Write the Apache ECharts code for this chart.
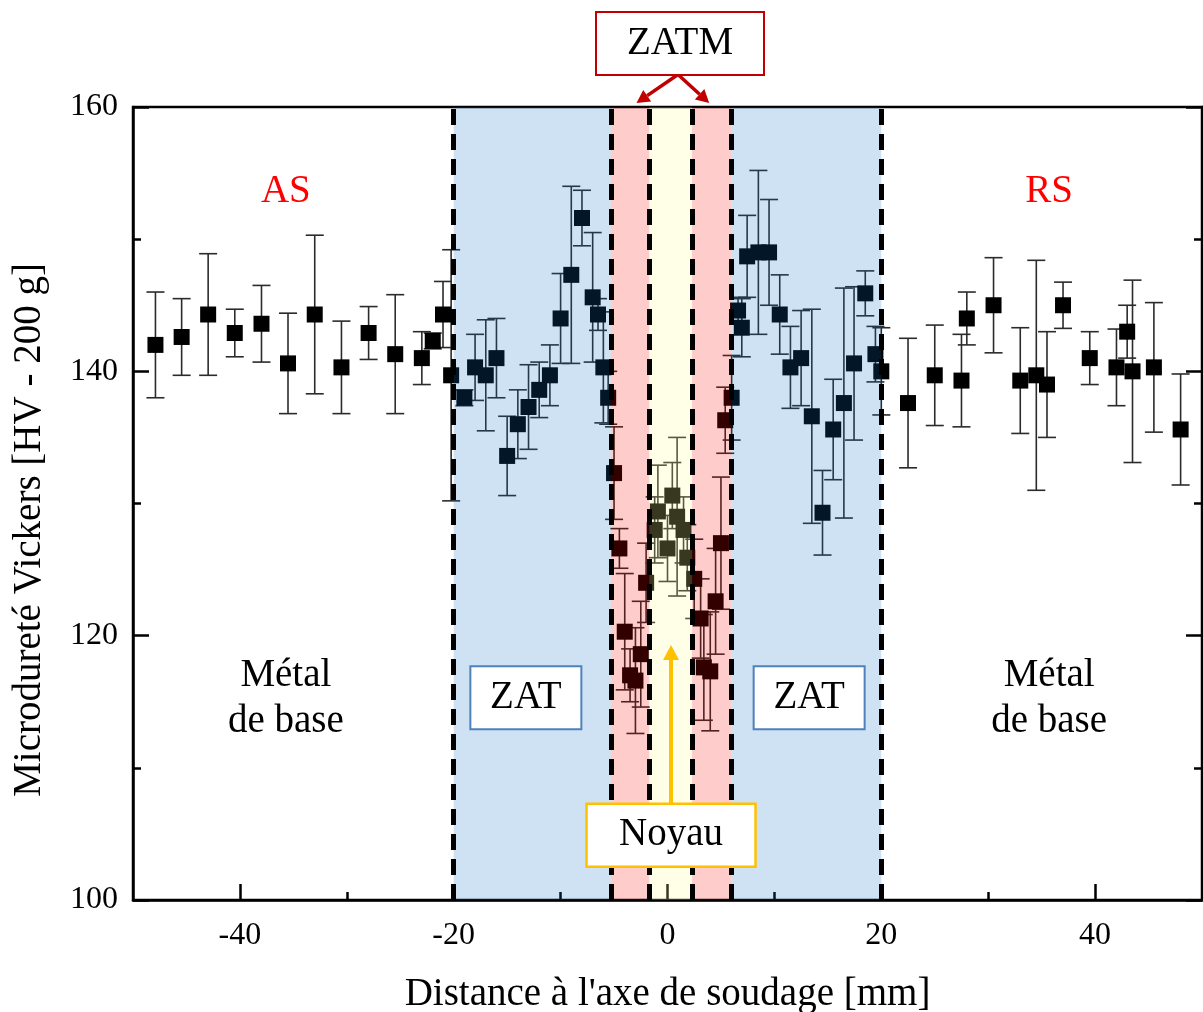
<!DOCTYPE html>
<html>
<head>
<meta charset="utf-8">
<script src="https://cdn.jsdelivr.net/npm/echarts@6/dist/echarts.min.js"></script>
<style>
  html, body { margin: 0; padding: 0; background: #fff; }
  #main { width: 1203px; height: 1012px; }
</style>
</head>
<body>
<div id="main"></div>
<script>
// distance a l'axe de soudage (mm)
const distance = [
  -47.9, -45.45, -42.97, -40.48, -37.98, -35.5, -33.0, -30.5, -27.96, -25.47, -22.98, -21.96, -21.0, -20.24,
  -19.0, -18.0, -17.0, -16.0, -15.0, -14.0, -13.0, -12.0, -11.0, -10.0, -9.0, -8.0, -7.0, -6.5, -6.0, -5.55,
  -5.0, -4.5, -4.0, -3.5, -3.0, -2.5, -2.0,
  -1.2, -0.9, 0.0, 0.45, 0.9, 1.5, 1.85, 2.5,
  3.1, 3.4, 4.0, 4.5, 5.0, 5.4, 6.0,
  6.6, 6.95, 7.45, 8.5, 9.5, 10.5, 11.5, 12.5, 13.5, 14.5, 15.5, 16.5, 17.45, 18.5, 19.45, 20.0,
  22.5, 25.0, 27.5, 28.0, 30.5, 33.0, 34.5, 35.5, 37.0, 39.5, 42.0, 43.0, 43.5, 45.5, 48.0
];
// microdurete (HV)
const hardness = [
  142.0, 142.6, 144.3, 142.9, 143.6, 140.6, 144.3, 140.3, 142.9, 141.3, 141.0, 142.3, 144.3, 139.7,
  138.0, 140.3, 139.7, 141.0, 133.6, 136.0, 137.3, 138.6, 139.7, 144.0, 147.3, 151.6, 145.6, 144.3, 140.3, 138.0,
  132.3, 126.6, 120.3, 117.0, 116.6, 118.6, 124.0,
  128.0, 129.4, 126.6, 130.6, 129.0, 128.0, 125.9, 124.3,
  121.3, 117.6, 117.3, 122.6, 127.0, 136.3, 138.0,
  144.6, 143.3, 148.7, 149.0, 149.0, 144.3, 140.3, 141.0, 136.6, 129.3, 135.6, 137.6, 140.6, 145.9, 141.3, 140.0,
  137.6, 139.7, 139.3, 144.0, 145.0, 139.3, 139.7, 139.0, 145.0, 141.0, 140.3, 143.0, 140.0, 140.3, 135.6
];
// barre d'erreur (+/- HV)
const errorBar = [
  4.0, 2.9, 4.6, 1.8, 2.9, 3.8, 6.0, 3.5, 2.0, 4.5, 2.0, 0.6, 2.5, 9.5,
  0.6, 2.5, 4.2, 3.0, 3.0, 2.6, 3.2, 2.1, 2.3, 3.4, 6.7, 2.1, 4.9, 1.2, 4.2, 2.0,
  3.5, 1.5, 4.4, 2.0, 4.0, 4.0, 3.0,
  2.5, 3.5, 2.5, 2.5, 6.0, 2.5, 2.5, 3.0,
  3.0, 4.0, 4.5, 4.0, 5.0, 2.5, 3.2,
  1.0, 2.2, 3.1, 6.2, 4.0, 3.0, 3.1, 3.6, 8.1, 3.2, 3.8, 8.7, 5.8, 1.7, 2.1, 3.3,
  4.9, 3.8, 3.5, 2.0, 3.6, 4.0, 8.7, 4.0, 1.75, 2.0, 2.9, 2.0, 6.9, 4.9, 4.2
];
// limites des zones (mm)
const zoneEdges = [-20, -5.3, -1.7, 2.3, 6.0, 20];
const zoneColors = ['rgba(15,110,195,0.2)', 'rgba(255,0,0,0.2)', 'rgba(255,255,150,0.22)',
                    'rgba(255,0,0,0.2)', 'rgba(15,110,195,0.2)'];
const xMajor = [-40, -20, 0, 20, 40];
const xMinor = [-30, -10, 10, 30];

const serif = '"Liberation Serif", "Times New Roman", serif';

const chart = echarts.init(document.getElementById('main'));

const points = distance.map((x, i) => [x, hardness[i]]);
const bars = distance.map((x, i) => [x, hardness[i] - errorBar[i], hardness[i] + errorBar[i]]);

const areas = [];
for (let i = 0; i < zoneEdges.length - 1; i++) {
  areas.push([{ xAxis: zoneEdges[i], itemStyle: { color: zoneColors[i] } }, { xAxis: zoneEdges[i + 1] }]);
}

const tickLine = { color: '#000', width: 2.5 };
const labelStyle = { color: '#000', fontFamily: serif, fontSize: 32 };
const nameStyle = { color: '#000', fontFamily: serif, fontSize: 39 };

const option = {
  animation: false,
  backgroundColor: '#fff',
  grid: {
    left: 133, right: 1, top: 107, bottom: 112,
    show: true, borderColor: '#000', borderWidth: 2.5,
    outerBoundsMode: 'none'
  },
  xAxis: [
    {
      type: 'value', min: -50, max: 50, position: 'bottom',
      name: "Distance à l'axe de soudage [mm]", nameLocation: 'middle', nameGap: 75,
      nameTextStyle: nameStyle,
      axisLine: { show: true, onZero: false, lineStyle: tickLine },
      axisTick: { show: true, inside: true, length: 16, customValues: xMajor, lineStyle: tickLine },
      axisLabel: Object.assign({ margin: 20, customValues: xMajor }, labelStyle),
      splitLine: { show: false }
    },
    {
      type: 'value', min: -50, max: 50, position: 'bottom',
      axisLine: { show: false, onZero: false },
      axisTick: { show: true, inside: true, length: 8, customValues: xMinor, lineStyle: tickLine },
      axisLabel: { show: false },
      splitLine: { show: false }
    }
  ],
  yAxis: [
    {
      type: 'value', min: 100, max: 160, interval: 20,
      axisLine: { show: true, onZero: false, lineStyle: tickLine },
      axisTick: { show: true, inside: true, length: 16, lineStyle: tickLine },
      minorTick: { show: true, splitNumber: 2, length: 8, lineStyle: tickLine },
      axisLabel: Object.assign({ margin: 15 }, labelStyle),
      splitLine: { show: false }
    },
    {
      type: 'value', min: 100, max: 160, interval: 20, position: 'right',
      axisLine: { show: true, onZero: false, lineStyle: tickLine },
      axisTick: { show: true, inside: true, length: 16, lineStyle: tickLine },
      minorTick: { show: true, splitNumber: 2, length: 8, lineStyle: tickLine },
      axisLabel: { show: false },
      splitLine: { show: false }
    }
  ],
  series: [
    {
      type: 'custom',
      z: 2,
      data: bars,
      encode: { x: 0, y: [1, 2] },
      renderItem: function (params, api) {
        const top = api.coord([api.value(0), api.value(2)]);
        const bot = api.coord([api.value(0), api.value(1)]);
        const w = 9;
        const st = { stroke: '#2b2b2b', lineWidth: 1.6 };
        return {
          type: 'group',
          children: [
            { type: 'line', shape: { x1: top[0], y1: top[1], x2: bot[0], y2: bot[1] }, style: st },
            { type: 'line', shape: { x1: top[0] - w, y1: top[1], x2: top[0] + w, y2: top[1] }, style: st },
            { type: 'line', shape: { x1: bot[0] - w, y1: bot[1], x2: bot[0] + w, y2: bot[1] }, style: st }
          ]
        };
      }
    },
    {
      type: 'scatter',
      z: 3,
      symbol: 'rect',
      symbolSize: 16,
      itemStyle: { color: '#000', opacity: 1 },
      data: points
    },
    {
      // zones colorees et limites en pointilles, par-dessus les points
      type: 'scatter',
      z: 10,
      data: [],
      markArea: { silent: true, z: 10, data: areas },
      markLine: {
        silent: true, z: 11, symbol: 'none',
        label: { show: false },
        lineStyle: { color: '#000', width: 5, type: [16, 9] },
        data: zoneEdges.map(v => ({ xAxis: v }))
      }
    }
  ]
};

chart.setOption(option);

// annotations
const px = (x, y) => chart.convertToPixel({ gridIndex: 0 }, [x, y]);

function label(text, p, color, size) {
  return {
    type: 'text', x: p[0], y: p[1], z: 100,
    style: { text: text, fill: color, fontFamily: serif, fontSize: size,
             align: 'center', verticalAlign: 'middle', lineHeight: 46 }
  };
}
function box(text, p, w, h, stroke, lw) {
  return [
    { type: 'rect', z: 100, shape: { x: p[0] - w / 2, y: p[1] - h / 2, width: w, height: h },
      style: { fill: '#fff', stroke: stroke, lineWidth: lw } },
    label(text, p, '#000', 39)
  ];
}
function arrow(a, b, color, lw, head, hw) {
  const ang = Math.atan2(b[1] - a[1], b[0] - a[0]);
  const bx = b[0] - head * Math.cos(ang), by = b[1] - head * Math.sin(ang);
  const nx = -Math.sin(ang) * hw / 2, ny = Math.cos(ang) * hw / 2;
  return [
    { type: 'line', z: 100, shape: { x1: a[0], y1: a[1], x2: bx, y2: by }, style: { stroke: color, lineWidth: lw } },
    { type: 'polygon', z: 100, shape: { points: [[b[0], b[1]], [bx + nx, by + ny], [bx - nx, by - ny]] }, style: { fill: color } }
  ];
}

const zatm = px(1.17, 164.8);
const yTitle = label('Microdureté Vickers [HV - 200 g]', [30, 530], '#000', 39);
yTitle.rotation = Math.PI / 2;

const graphics = [].concat(
  yTitle,
  label('AS', px(-35.7, 153.6), '#ff0000', 39),
  label('RS', px(35.7, 153.6), '#ff0000', 39),
  label('Métal\nde base', px(-35.7, 115.2), '#000', 39),
  label('Métal\nde base', px(35.7, 115.2), '#000', 39),
  box('ZAT', px(-13.25, 115.3), 111, 63, '#4f81bd', 2),
  box('ZAT', px(13.25, 115.3), 111, 63, '#4f81bd', 2),
  arrow(px(0.33, 107.3), px(0.33, 119.3), '#ffc000', 4, 15, 16),
  box('Noyau', px(0.33, 104.9), 169, 63, '#ffc000', 2.5),
  arrow([zatm[0] - 2, zatm[1] + 31], px(-2.9, 160.3), '#c00000', 3.5, 13, 14),
  arrow([zatm[0] - 2, zatm[1] + 31], px(3.9, 160.3), '#c00000', 3.5, 13, 14),
  box('ZATM', zatm, 168, 63, '#c00000', 2)
);

chart.setOption({ graphic: graphics });
</script>
</body>
</html>
